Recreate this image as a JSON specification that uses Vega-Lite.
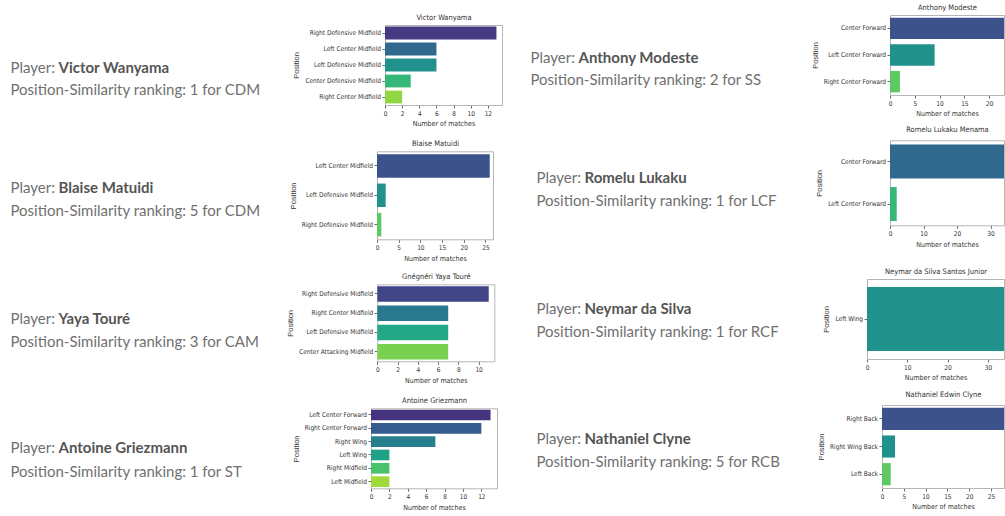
{
  "$schema": "https://vega.github.io/schema/vega-lite/v6.json",
  "background": "white",
  "padding": 0,
  "autosize": {"type": "pad"},
  "config": {
    "view": {"stroke": null},
    "axis": {"labelFont": "DejaVu Sans Condensed, DejaVu Sans, sans-serif", "labelFontSize": 6.5, "labelColor": "#333333", "titleFont": "DejaVu Sans Condensed, DejaVu Sans, sans-serif", "titleFontSize": 7, "titleFontWeight": "normal", "titleColor": "#333333", "tickColor": "#444444", "tickSize": 3, "tickWidth": 0.8, "domainColor": "#b5b5b5", "domainWidth": 1, "grid": false, "labelPadding": 2.3, "titlePadding": 3},
    "axisX": {"labelFlush": false, "labelOverlap": false},
    "axisY": {"titleFont": "Liberation Sans, sans-serif", "titleFontSize": 7.5, "titlePadding": 4, "labelPadding": 1.5},
    "text": {"font": "Lato", "fontSize": 15, "align": "left", "baseline": "middle", "color": "#707070"}
  },
  "datasets": {
    "victor": [
      {"position": "Right Defensive Midfield", "matches": 13},
      {"position": "Left Center Midfield", "matches": 6},
      {"position": "Left Defensive Midfield", "matches": 6},
      {"position": "Center Defensive Midfield", "matches": 3},
      {"position": "Right Center Midfield", "matches": 2}
    ],
    "victor_t": [
      {"part": "label", "line": "1", "text": "Player:"},
      {"part": "name", "line": "1", "text": "Victor Wanyama"},
      {"part": "label", "line": "2", "text": "Position-Similarity ranking: 1 for CDM"}
    ],
    "blaise": [
      {"position": "Left Center Midfield", "matches": 26},
      {"position": "Left Defensive Midfield", "matches": 2},
      {"position": "Right Defensive Midfield", "matches": 1}
    ],
    "blaise_t": [
      {"part": "label", "line": "1", "text": "Player:"},
      {"part": "name", "line": "1", "text": "Blaise Matuidi"},
      {"part": "label", "line": "2", "text": "Position-Similarity ranking: 5 for CDM"}
    ],
    "yaya": [
      {"position": "Right Defensive Midfield", "matches": 11},
      {"position": "Right Center Midfield", "matches": 7},
      {"position": "Left Defensive Midfield", "matches": 7},
      {"position": "Center Attacking Midfield", "matches": 7}
    ],
    "yaya_t": [
      {"part": "label", "line": "1", "text": "Player:"},
      {"part": "name", "line": "1", "text": "Yaya Touré"},
      {"part": "label", "line": "2", "text": "Position-Similarity ranking: 3 for CAM"}
    ],
    "antoine": [
      {"position": "Left Center Forward", "matches": 13},
      {"position": "Right Center Forward", "matches": 12},
      {"position": "Right Wing", "matches": 7},
      {"position": "Left Wing", "matches": 2},
      {"position": "Right Midfield", "matches": 2},
      {"position": "Left Midfield", "matches": 2}
    ],
    "antoine_t": [
      {"part": "label", "line": "1", "text": "Player:"},
      {"part": "name", "line": "1", "text": "Antoine Griezmann"},
      {"part": "label", "line": "2", "text": "Position-Similarity ranking: 1 for ST"}
    ],
    "anthony": [
      {"position": "Center Forward", "matches": 23},
      {"position": "Left Center Forward", "matches": 9},
      {"position": "Right Center Forward", "matches": 2}
    ],
    "anthony_t": [
      {"part": "label", "line": "1", "text": "Player:"},
      {"part": "name", "line": "1", "text": "Anthony Modeste"},
      {"part": "label", "line": "2", "text": "Position-Similarity ranking: 2 for SS"}
    ],
    "romelu": [
      {"position": "Center Forward", "matches": 34},
      {"position": "Left Center Forward", "matches": 2}
    ],
    "romelu_t": [
      {"part": "label", "line": "1", "text": "Player:"},
      {"part": "name", "line": "1", "text": "Romelu Lukaku"},
      {"part": "label", "line": "2", "text": "Position-Similarity ranking: 1 for LCF"}
    ],
    "neymar": [
      {"position": "Left Wing", "matches": 34}
    ],
    "neymar_t": [
      {"part": "label", "line": "1", "text": "Player:"},
      {"part": "name", "line": "1", "text": "Neymar da Silva"},
      {"part": "label", "line": "2", "text": "Position-Similarity ranking: 1 for RCF"}
    ],
    "nathaniel": [
      {"position": "Right Back", "matches": 28},
      {"position": "Right Wing Back", "matches": 3},
      {"position": "Left Back", "matches": 2}
    ],
    "nathaniel_t": [
      {"part": "label", "line": "1", "text": "Player:"},
      {"part": "name", "line": "1", "text": "Nathaniel Clyne"},
      {"part": "label", "line": "2", "text": "Position-Similarity ranking: 5 for RCB"}
    ]
  },
  "columns": 2,
  "spacing": 0,
  "bounds": "flush",
  "align": "all",
  "resolve": {"scale": {"color": "independent"}},
  "concat": [
    {
      "width": 520, "height": 129,
      "layer": [
        {"layer": [
          {"data": {"name": "victor"}, "mark": "bar",
           "encoding": {
             "y": {"field": "position", "type": "nominal", "axis": {"title": "Position", "offset": -385}, "scale": {"domain": ["Right Defensive Midfield", "Left Center Midfield", "Left Defensive Midfield", "Center Defensive Midfield", "Right Center Midfield"], "range": [25, 105], "paddingInner": 0.2, "paddingOuter": 0.1}},
             "x": {"field": "matches", "type": "quantitative", "axis": {"title": "Number of matches", "offset": -24, "values": [0, 2, 4, 6, 8, 10, 12]}, "scale": {"domain": [0, 13.65], "range": [385, 502], "nice": false}},
             "color": {"field": "position", "type": "nominal", "legend": null, "scale": {"domain": ["Right Defensive Midfield", "Left Center Midfield", "Left Defensive Midfield", "Center Defensive Midfield", "Right Center Midfield"], "range": ["#443983", "#31688e", "#21918c", "#35b779", "#90d743"]}}
           }},
          {"data": {"name": "victor"}, "transform": [{"filter": "false"}], "mark": "bar",
           "encoding": {
             "y": {"field": "position", "type": "nominal", "axis": {"orient": "right", "offset": -18, "labels": false, "ticks": false, "title": null}},
             "x": {"field": "matches", "type": "quantitative", "axis": {"orient": "top", "offset": -25, "labels": false, "ticks": false, "title": "Victor Wanyama", "titleFontSize": 7.5, "titlePadding": 3.5}}
           }}
        ], "resolve": {"axis": {"x": "independent", "y": "independent"}}},
        {"data": {"name": "victor_t"}, "transform": [{"filter": "datum.part !== 'name'"}], "mark": {"type": "text"},
         "encoding": {
           "x": {"field": "part", "type": "nominal", "axis": null, "scale": {"type": "point", "domain": ["label", "name"], "range": [10.5, 58.5], "padding": 0}},
           "y": {"field": "line", "type": "nominal", "axis": null, "scale": {"type": "point", "domain": ["1", "2"], "range": [68.3, 90.3], "padding": 0}},
           "text": {"field": "text"}
         }},
        {"data": {"name": "victor_t"}, "transform": [{"filter": "datum.part === 'name'"}], "mark": {"type": "text", "fontWeight": "bold", "color": "#555555"},
         "encoding": {
           "x": {"field": "part", "type": "nominal", "axis": null, "scale": {"type": "point", "domain": ["label", "name"], "range": [10.5, 58.5], "padding": 0}},
           "y": {"field": "line", "type": "nominal", "axis": null, "scale": {"type": "point", "domain": ["1", "2"], "range": [68.3, 90.3], "padding": 0}},
           "text": {"field": "text"}
         }}
      ],
      "resolve": {"scale": {"x": "independent", "y": "independent", "color": "independent"}}
    },
    {
      "width": 485, "height": 129,
      "layer": [
        {"layer": [
          {"data": {"name": "anthony"}, "mark": "bar",
           "encoding": {
             "y": {"field": "position", "type": "nominal", "axis": {"title": "Position", "offset": -370}, "scale": {"domain": ["Center Forward", "Left Center Forward", "Right Center Forward"], "range": [15, 95], "paddingInner": 0.2, "paddingOuter": 0.1}},
             "x": {"field": "matches", "type": "quantitative", "axis": {"title": "Number of matches", "offset": -34, "values": [0, 5, 10, 15, 20]}, "scale": {"domain": [0, 23], "range": [370, 484], "nice": false}},
             "color": {"field": "position", "type": "nominal", "legend": null, "scale": {"domain": ["Center Forward", "Left Center Forward", "Right Center Forward"], "range": ["#3b528b", "#21918c", "#5ec962"]}}
           }},
          {"data": {"name": "anthony"}, "transform": [{"filter": "false"}], "mark": "bar",
           "encoding": {
             "y": {"field": "position", "type": "nominal", "axis": {"orient": "right", "offset": -1, "labels": false, "ticks": false, "title": null}},
             "x": {"field": "matches", "type": "quantitative", "axis": {"orient": "top", "offset": -15, "labels": false, "ticks": false, "title": "Anthony Modeste", "titleFontSize": 7.5, "titlePadding": 3.5}}
           }}
        ], "resolve": {"axis": {"x": "independent", "y": "independent"}}},
        {"data": {"name": "anthony_t"}, "transform": [{"filter": "datum.part !== 'name'"}], "mark": {"type": "text"},
         "encoding": {
           "x": {"field": "part", "type": "nominal", "axis": null, "scale": {"type": "point", "domain": ["label", "name"], "range": [10.5, 58.5], "padding": 0}},
           "y": {"field": "line", "type": "nominal", "axis": null, "scale": {"type": "point", "domain": ["1", "2"], "range": [58.3, 80], "padding": 0}},
           "text": {"field": "text"}
         }},
        {"data": {"name": "anthony_t"}, "transform": [{"filter": "datum.part === 'name'"}], "mark": {"type": "text", "fontWeight": "bold", "color": "#555555"},
         "encoding": {
           "x": {"field": "part", "type": "nominal", "axis": null, "scale": {"type": "point", "domain": ["label", "name"], "range": [10.5, 58.5], "padding": 0}},
           "y": {"field": "line", "type": "nominal", "axis": null, "scale": {"type": "point", "domain": ["1", "2"], "range": [58.3, 80], "padding": 0}},
           "text": {"field": "text"}
         }}
      ],
      "resolve": {"scale": {"x": "independent", "y": "independent", "color": "independent"}}
    },
    {
      "width": 520, "height": 129,
      "layer": [
        {"layer": [
          {"data": {"name": "blaise"}, "mark": "bar",
           "encoding": {
             "y": {"field": "position", "type": "nominal", "axis": {"title": "Position", "offset": -377}, "scale": {"domain": ["Left Center Midfield", "Left Defensive Midfield", "Right Defensive Midfield"], "range": [22.3, 110.3], "paddingInner": 0.2, "paddingOuter": 0.1}},
             "x": {"field": "matches", "type": "quantitative", "axis": {"title": "Number of matches", "offset": -18.7, "values": [0, 5, 10, 15, 20, 25]}, "scale": {"domain": [0, 26.75], "range": [377, 493], "nice": false}},
             "color": {"field": "position", "type": "nominal", "legend": null, "scale": {"domain": ["Left Center Midfield", "Left Defensive Midfield", "Right Defensive Midfield"], "range": ["#3b528b", "#21918c", "#5ec962"]}}
           }},
          {"data": {"name": "blaise"}, "transform": [{"filter": "false"}], "mark": "bar",
           "encoding": {
             "y": {"field": "position", "type": "nominal", "axis": {"orient": "right", "offset": -27, "labels": false, "ticks": false, "title": null}},
             "x": {"field": "matches", "type": "quantitative", "axis": {"orient": "top", "offset": -22.3, "labels": false, "ticks": false, "title": "Blaise Matuidi", "titleFontSize": 7.5, "titlePadding": 4}}
           }}
        ], "resolve": {"axis": {"x": "independent", "y": "independent"}}},
        {"data": {"name": "blaise_t"}, "transform": [{"filter": "datum.part !== 'name'"}], "mark": {"type": "text"},
         "encoding": {
           "x": {"field": "part", "type": "nominal", "axis": null, "scale": {"type": "point", "domain": ["label", "name"], "range": [10.5, 58.5], "padding": 0}},
           "y": {"field": "line", "type": "nominal", "axis": null, "scale": {"type": "point", "domain": ["1", "2"], "range": [59.3, 81.7], "padding": 0}},
           "text": {"field": "text"}
         }},
        {"data": {"name": "blaise_t"}, "transform": [{"filter": "datum.part === 'name'"}], "mark": {"type": "text", "fontWeight": "bold", "color": "#555555"},
         "encoding": {
           "x": {"field": "part", "type": "nominal", "axis": null, "scale": {"type": "point", "domain": ["label", "name"], "range": [10.5, 58.5], "padding": 0}},
           "y": {"field": "line", "type": "nominal", "axis": null, "scale": {"type": "point", "domain": ["1", "2"], "range": [59.3, 81.7], "padding": 0}},
           "text": {"field": "text"}
         }}
      ],
      "resolve": {"scale": {"x": "independent", "y": "independent", "color": "independent"}}
    },
    {
      "width": 485, "height": 129,
      "layer": [
        {"layer": [
          {"data": {"name": "romelu"}, "mark": "bar",
           "encoding": {
             "y": {"field": "position", "type": "nominal", "axis": {"title": "Position", "offset": -370}, "scale": {"domain": ["Center Forward", "Left Center Forward"], "range": [11.3, 96.3], "paddingInner": 0.2, "paddingOuter": 0.1}},
             "x": {"field": "matches", "type": "quantitative", "axis": {"title": "Number of matches", "offset": -32.7, "values": [0, 10, 20, 30]}, "scale": {"domain": [0, 34], "range": [370, 484], "nice": false}},
             "color": {"field": "position", "type": "nominal", "legend": null, "scale": {"domain": ["Center Forward", "Left Center Forward"], "range": ["#31688e", "#35b779"]}}
           }},
          {"data": {"name": "romelu"}, "transform": [{"filter": "false"}], "mark": "bar",
           "encoding": {
             "y": {"field": "position", "type": "nominal", "axis": {"orient": "right", "offset": -1, "labels": false, "ticks": false, "title": null}},
             "x": {"field": "matches", "type": "quantitative", "axis": {"orient": "top", "offset": -11.3, "labels": false, "ticks": false, "title": "Romelu Lukaku Menama", "titleFontSize": 7.5, "titlePadding": 6.5}}
           }}
        ], "resolve": {"axis": {"x": "independent", "y": "independent"}}},
        {"data": {"name": "romelu_t"}, "transform": [{"filter": "datum.part !== 'name'"}], "mark": {"type": "text"},
         "encoding": {
           "x": {"field": "part", "type": "nominal", "axis": null, "scale": {"type": "point", "domain": ["label", "name"], "range": [16.5, 64.5], "padding": 0}},
           "y": {"field": "line", "type": "nominal", "axis": null, "scale": {"type": "point", "domain": ["1", "2"], "range": [49.3, 71.7], "padding": 0}},
           "text": {"field": "text"}
         }},
        {"data": {"name": "romelu_t"}, "transform": [{"filter": "datum.part === 'name'"}], "mark": {"type": "text", "fontWeight": "bold", "color": "#555555"},
         "encoding": {
           "x": {"field": "part", "type": "nominal", "axis": null, "scale": {"type": "point", "domain": ["label", "name"], "range": [16.5, 64.5], "padding": 0}},
           "y": {"field": "line", "type": "nominal", "axis": null, "scale": {"type": "point", "domain": ["1", "2"], "range": [49.3, 71.7], "padding": 0}},
           "text": {"field": "text"}
         }}
      ],
      "resolve": {"scale": {"x": "independent", "y": "independent", "color": "independent"}}
    },
    {
      "width": 520, "height": 129,
      "layer": [
        {"layer": [
          {"data": {"name": "yaya"}, "mark": "bar",
           "encoding": {
             "y": {"field": "position", "type": "nominal", "axis": {"title": "Position", "offset": -377.3}, "scale": {"domain": ["Right Defensive Midfield", "Right Center Midfield", "Left Defensive Midfield", "Center Attacking Midfield"], "range": [26.3, 103.3], "paddingInner": 0.2, "paddingOuter": 0.1}},
             "x": {"field": "matches", "type": "quantitative", "axis": {"title": "Number of matches", "offset": -25.7, "values": [0, 2, 4, 6, 8, 10]}, "scale": {"domain": [0, 11.55], "range": [377.3, 494.3], "nice": false}},
             "color": {"field": "position", "type": "nominal", "legend": null, "scale": {"domain": ["Right Defensive Midfield", "Right Center Midfield", "Left Defensive Midfield", "Center Attacking Midfield"], "range": ["#414487", "#2a788e", "#22a884", "#7ad151"]}}
           }},
          {"data": {"name": "yaya"}, "transform": [{"filter": "false"}], "mark": "bar",
           "encoding": {
             "y": {"field": "position", "type": "nominal", "axis": {"orient": "right", "offset": -25.7, "labels": false, "ticks": false, "title": null}},
             "x": {"field": "matches", "type": "quantitative", "axis": {"orient": "top", "offset": -26.3, "labels": false, "ticks": false, "title": "Gnégnéri Yaya Touré", "titleFontSize": 7.5, "titlePadding": 4}}
           }}
        ], "resolve": {"axis": {"x": "independent", "y": "independent"}}},
        {"data": {"name": "yaya_t"}, "transform": [{"filter": "datum.part !== 'name'"}], "mark": {"type": "text"},
         "encoding": {
           "x": {"field": "part", "type": "nominal", "axis": null, "scale": {"type": "point", "domain": ["label", "name"], "range": [10.5, 58.5], "padding": 0}},
           "y": {"field": "line", "type": "nominal", "axis": null, "scale": {"type": "point", "domain": ["1", "2"], "range": [61.3, 83.7], "padding": 0}},
           "text": {"field": "text"}
         }},
        {"data": {"name": "yaya_t"}, "transform": [{"filter": "datum.part === 'name'"}], "mark": {"type": "text", "fontWeight": "bold", "color": "#555555"},
         "encoding": {
           "x": {"field": "part", "type": "nominal", "axis": null, "scale": {"type": "point", "domain": ["label", "name"], "range": [10.5, 58.5], "padding": 0}},
           "y": {"field": "line", "type": "nominal", "axis": null, "scale": {"type": "point", "domain": ["1", "2"], "range": [61.3, 83.7], "padding": 0}},
           "text": {"field": "text"}
         }}
      ],
      "resolve": {"scale": {"x": "independent", "y": "independent", "color": "independent"}}
    },
    {
      "width": 485, "height": 129,
      "layer": [
        {"layer": [
          {"data": {"name": "neymar"}, "mark": "bar",
           "encoding": {
             "y": {"field": "position", "type": "nominal", "axis": {"title": "Position", "offset": -347}, "scale": {"domain": ["Left Wing"], "range": [21, 101], "paddingInner": 0.2, "paddingOuter": 0.1}},
             "x": {"field": "matches", "type": "quantitative", "axis": {"title": "Number of matches", "offset": -28, "values": [0, 10, 20, 30]}, "scale": {"domain": [0, 34], "range": [347, 484], "nice": false}},
             "color": {"field": "position", "type": "nominal", "legend": null, "scale": {"domain": ["Left Wing"], "range": ["#21918c"]}}
           }},
          {"data": {"name": "neymar"}, "transform": [{"filter": "false"}], "mark": "bar",
           "encoding": {
             "y": {"field": "position", "type": "nominal", "axis": {"orient": "right", "offset": -1, "labels": false, "ticks": false, "title": null}},
             "x": {"field": "matches", "type": "quantitative", "axis": {"orient": "top", "offset": -21, "labels": false, "ticks": false, "title": "Neymar da Silva Santos Junior", "titleFontSize": 7.5, "titlePadding": 4}}
           }}
        ], "resolve": {"axis": {"x": "independent", "y": "independent"}}},
        {"data": {"name": "neymar_t"}, "transform": [{"filter": "datum.part !== 'name'"}], "mark": {"type": "text"},
         "encoding": {
           "x": {"field": "part", "type": "nominal", "axis": null, "scale": {"type": "point", "domain": ["label", "name"], "range": [16.5, 64.5], "padding": 0}},
           "y": {"field": "line", "type": "nominal", "axis": null, "scale": {"type": "point", "domain": ["1", "2"], "range": [51.3, 73.7], "padding": 0}},
           "text": {"field": "text"}
         }},
        {"data": {"name": "neymar_t"}, "transform": [{"filter": "datum.part === 'name'"}], "mark": {"type": "text", "fontWeight": "bold", "color": "#555555"},
         "encoding": {
           "x": {"field": "part", "type": "nominal", "axis": null, "scale": {"type": "point", "domain": ["label", "name"], "range": [16.5, 64.5], "padding": 0}},
           "y": {"field": "line", "type": "nominal", "axis": null, "scale": {"type": "point", "domain": ["1", "2"], "range": [51.3, 73.7], "padding": 0}},
           "text": {"field": "text"}
         }}
      ],
      "resolve": {"scale": {"x": "independent", "y": "independent", "color": "independent"}}
    },
    {
      "width": 520, "height": 129,
      "layer": [
        {"layer": [
          {"data": {"name": "antoine"}, "mark": "bar",
           "encoding": {
             "y": {"field": "position", "type": "nominal", "axis": {"title": "Position", "offset": -371}, "scale": {"domain": ["Left Center Forward", "Right Center Forward", "Right Wing", "Left Wing", "Right Midfield", "Left Midfield"], "range": [21.3, 101.3], "paddingInner": 0.2, "paddingOuter": 0.1}},
             "x": {"field": "matches", "type": "quantitative", "axis": {"title": "Number of matches", "offset": -27.7, "values": [0, 2, 4, 6, 8, 10, 12]}, "scale": {"domain": [0, 13.7], "range": [371, 497], "nice": false}},
             "color": {"field": "position", "type": "nominal", "legend": null, "scale": {"domain": ["Left Center Forward", "Right Center Forward", "Right Wing", "Left Wing", "Right Midfield", "Left Midfield"], "range": ["#46337e", "#365c8d", "#277f8e", "#1fa187", "#4ac16d", "#9fda3a"]}}
           }},
          {"data": {"name": "antoine"}, "transform": [{"filter": "false"}], "mark": "bar",
           "encoding": {
             "y": {"field": "position", "type": "nominal", "axis": {"orient": "right", "offset": -23, "labels": false, "ticks": false, "title": null}},
             "x": {"field": "matches", "type": "quantitative", "axis": {"orient": "top", "offset": -21.3, "labels": false, "ticks": false, "title": "Antoine Griezmann", "titleFontSize": 7.5, "titlePadding": 3.5}}
           }}
        ], "resolve": {"axis": {"x": "independent", "y": "independent"}}},
        {"data": {"name": "antoine_t"}, "transform": [{"filter": "datum.part !== 'name'"}], "mark": {"type": "text"},
         "encoding": {
           "x": {"field": "part", "type": "nominal", "axis": null, "scale": {"type": "point", "domain": ["label", "name"], "range": [10.5, 58.5], "padding": 0}},
           "y": {"field": "line", "type": "nominal", "axis": null, "scale": {"type": "point", "domain": ["1", "2"], "range": [61.3, 84.7], "padding": 0}},
           "text": {"field": "text"}
         }},
        {"data": {"name": "antoine_t"}, "transform": [{"filter": "datum.part === 'name'"}], "mark": {"type": "text", "fontWeight": "bold", "color": "#555555"},
         "encoding": {
           "x": {"field": "part", "type": "nominal", "axis": null, "scale": {"type": "point", "domain": ["label", "name"], "range": [10.5, 58.5], "padding": 0}},
           "y": {"field": "line", "type": "nominal", "axis": null, "scale": {"type": "point", "domain": ["1", "2"], "range": [61.3, 84.7], "padding": 0}},
           "text": {"field": "text"}
         }}
      ],
      "resolve": {"scale": {"x": "independent", "y": "independent", "color": "independent"}}
    },
    {
      "width": 485, "height": 129,
      "layer": [
        {"layer": [
          {"data": {"name": "nathaniel"}, "mark": "bar",
           "encoding": {
             "y": {"field": "position", "type": "nominal", "axis": {"title": "Position", "offset": -362}, "scale": {"domain": ["Right Back", "Right Wing Back", "Left Back"], "range": [18, 101], "paddingInner": 0.2, "paddingOuter": 0.1}},
             "x": {"field": "matches", "type": "quantitative", "axis": {"title": "Number of matches", "offset": -28, "values": [0, 5, 10, 15, 20, 25]}, "scale": {"domain": [0, 28], "range": [362, 484], "nice": false}},
             "color": {"field": "position", "type": "nominal", "legend": null, "scale": {"domain": ["Right Back", "Right Wing Back", "Left Back"], "range": ["#3b528b", "#21918c", "#5ec962"]}}
           }},
          {"data": {"name": "nathaniel"}, "transform": [{"filter": "false"}], "mark": "bar",
           "encoding": {
             "y": {"field": "position", "type": "nominal", "axis": {"orient": "right", "offset": -1, "labels": false, "ticks": false, "title": null}},
             "x": {"field": "matches", "type": "quantitative", "axis": {"orient": "top", "offset": -18, "labels": false, "ticks": false, "title": "Nathaniel Edwin Clyne", "titleFontSize": 7.5, "titlePadding": 6.5}}
           }}
        ], "resolve": {"axis": {"x": "independent", "y": "independent"}}},
        {"data": {"name": "nathaniel_t"}, "transform": [{"filter": "datum.part !== 'name'"}], "mark": {"type": "text"},
         "encoding": {
           "x": {"field": "part", "type": "nominal", "axis": null, "scale": {"type": "point", "domain": ["label", "name"], "range": [16.5, 64.5], "padding": 0}},
           "y": {"field": "line", "type": "nominal", "axis": null, "scale": {"type": "point", "domain": ["1", "2"], "range": [52.3, 74.7], "padding": 0}},
           "text": {"field": "text"}
         }},
        {"data": {"name": "nathaniel_t"}, "transform": [{"filter": "datum.part === 'name'"}], "mark": {"type": "text", "fontWeight": "bold", "color": "#555555"},
         "encoding": {
           "x": {"field": "part", "type": "nominal", "axis": null, "scale": {"type": "point", "domain": ["label", "name"], "range": [16.5, 64.5], "padding": 0}},
           "y": {"field": "line", "type": "nominal", "axis": null, "scale": {"type": "point", "domain": ["1", "2"], "range": [52.3, 74.7], "padding": 0}},
           "text": {"field": "text"}
         }}
      ],
      "resolve": {"scale": {"x": "independent", "y": "independent", "color": "independent"}}
    }
  ]
}
